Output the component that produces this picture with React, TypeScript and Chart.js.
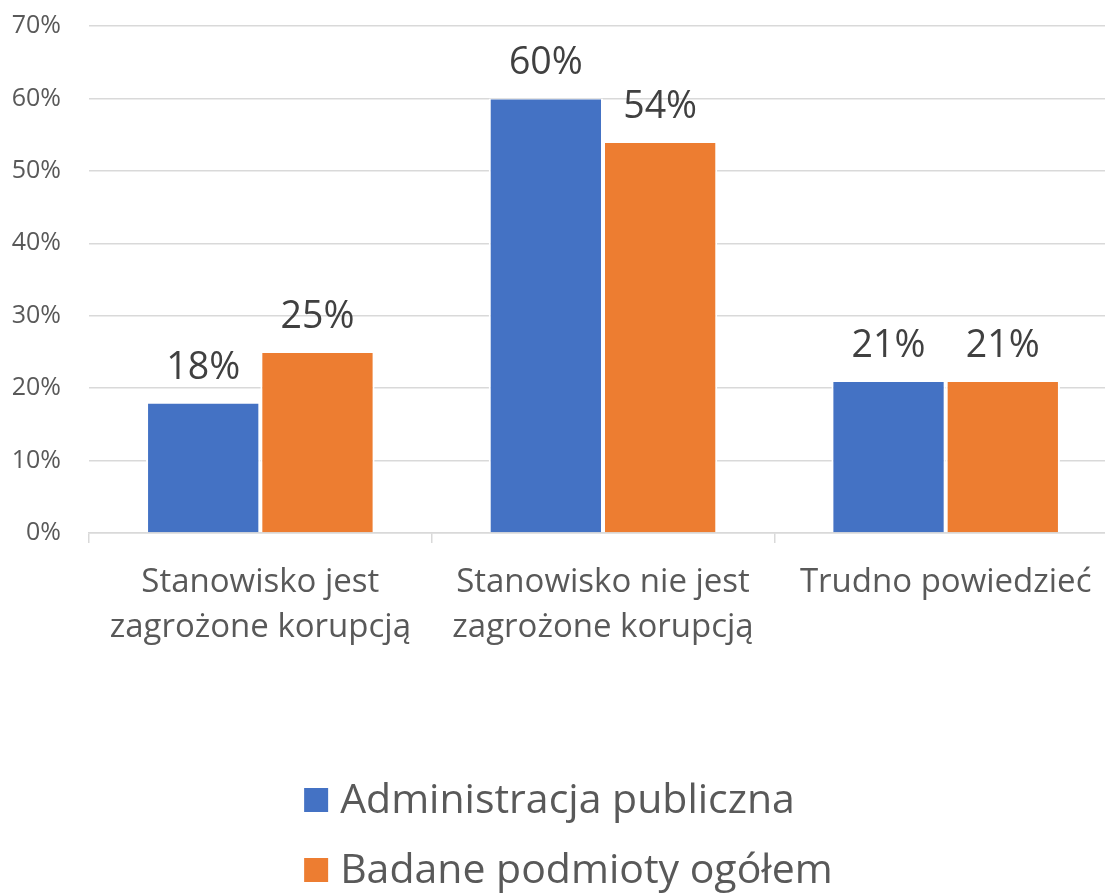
import React, { useEffect, useRef } from "react";
import { Chart, registerables } from "chart.js";

Chart.register(...registerables);

const categories: (string | string[])[] = [
  ["Stanowisko jest", "zagrożone korupcją"],
  ["Stanowisko nie jest", "zagrożone korupcją"],
  "Trudno powiedzieć",
];
const seriesNames = ["Administracja publiczna", "Badane podmioty ogółem"];
const adminValues = [18, 60, 21];
const totalValues = [25, 54, 21];
const seriesColors = ["#4472C4", "#ED7D31"];
const yTicks = [0, 10, 20, 30, 40, 50, 60, 70];

const FONT = "'Open Sans', 'Noto Sans', sans-serif";
const VIEW_W = 1105;
const VIEW_H = 895;
const CANVAS_W = 1125;

const dataLabelPlugin = {
  id: "dataLabels",
  afterDatasetsDraw(chart: any) {
    const ctx = chart.ctx;
    ctx.save();
    ctx.font = `37.5px ${FONT}`;
    ctx.fillStyle = "#404040";
    ctx.textAlign = "center";
    ctx.textBaseline = "alphabetic";
    chart.data.datasets.forEach((ds: any, di: number) => {
      const meta = chart.getDatasetMeta(di);
      meta.data.forEach((bar: any, i: number) => {
        ctx.fillText(`${ds.data[i]}%`, bar.x, bar.y - 24);
      });
    });
    ctx.restore();
  },
};

const legendPlugin = {
  id: "customLegend",
  afterDraw(chart: any) {
    const ctx = chart.ctx;
    ctx.save();
    ctx.font = `41px ${FONT}`;
    const box = 24;
    const gap = 12;
    const firstW = box + gap + ctx.measureText(chart.data.datasets[0].label).width;
    const left = VIEW_W / 2 - firstW / 2 - 3;
    const rows = [chart.height - 95, chart.height - 25];
    chart.data.datasets.forEach((ds: any, i: number) => {
      const cy = rows[i];
      ctx.fillStyle = ds.backgroundColor;
      ctx.fillRect(left, cy - box / 2, box, box);
      ctx.fillStyle = "#595959";
      ctx.textAlign = "left";
      ctx.textBaseline = "middle";
      ctx.fillText(ds.label, left + box + gap, cy + 1);
    });
    ctx.restore();
  },
};

export default function App() {
  const ref = useRef<HTMLCanvasElement | null>(null);

  useEffect(() => {
    if (!ref.current) return;
    const chart = new Chart(ref.current, {
      type: "bar",
      data: {
        labels: categories,
        datasets: [
          {
            label: seriesNames[0],
            data: adminValues,
            backgroundColor: seriesColors[0],
            borderColor: "#FFFFFF",
            borderWidth: { left: 2, right: 2, top: 1, bottom: 0 },
            borderSkipped: false,
            categoryPercentage: 0.667,
            barPercentage: 1,
          },
          {
            label: seriesNames[1],
            data: totalValues,
            backgroundColor: seriesColors[1],
            borderColor: "#FFFFFF",
            borderWidth: { left: 2, right: 2, top: 1, bottom: 0 },
            borderSkipped: false,
            categoryPercentage: 0.667,
            barPercentage: 1,
          },
        ],
      },
      options: {
        responsive: false,
        animation: false,
        layout: { autoPadding: false, padding: { top: 26, right: 8, left: 0, bottom: 236 } },
        plugins: {
          legend: { display: false },
          tooltip: { enabled: false },
        },
        scales: {
          x: {
            grid: {
              display: true,
              drawOnChartArea: false,
              drawTicks: true,
              tickLength: 10,
              color: "#D9D9D9",
              lineWidth: 1.5,
              offset: true,
            },
            border: { display: true, color: "#D9D9D9", width: 1.5 },
            ticks: {
              color: "#595959",
              font: { family: FONT, size: 33, lineHeight: 1.36 },
              padding: 17,
              maxRotation: 0,
              autoSkip: false,
            },
            afterFit(scale: any) {
              scale.height = 126;
            },
          },
          y: {
            min: 0,
            max: 70,
            afterBuildTicks(scale: any) {
              scale.ticks = yTicks.map((v) => ({ value: v }));
            },
            afterFit(scale: any) {
              scale.width = 89;
            },
            grid: {
              color: "#D9D9D9",
              lineWidth: 1.5,
              drawTicks: true,
              tickLength: 28,
              tickColor: "rgba(0,0,0,0)",
            },
            border: { display: false },
            ticks: {
              color: "#595959",
              font: { family: FONT, size: 25 },
              padding: 0,
              callback: (v: any) => `${v}%`,
            },
          },
        },
      },
      plugins: [dataLabelPlugin, legendPlugin],
    });
    return () => chart.destroy();
  }, []);

  return (
    <div
      style={{
        position: "absolute",
        left: 0,
        top: 0,
        width: VIEW_W,
        height: VIEW_H,
        overflow: "hidden",
        background: "#FFFFFF",
      }}
    >
      <canvas ref={ref} width={CANVAS_W} height={VIEW_H} style={{ display: "block" }} />
    </div>
  );
}
